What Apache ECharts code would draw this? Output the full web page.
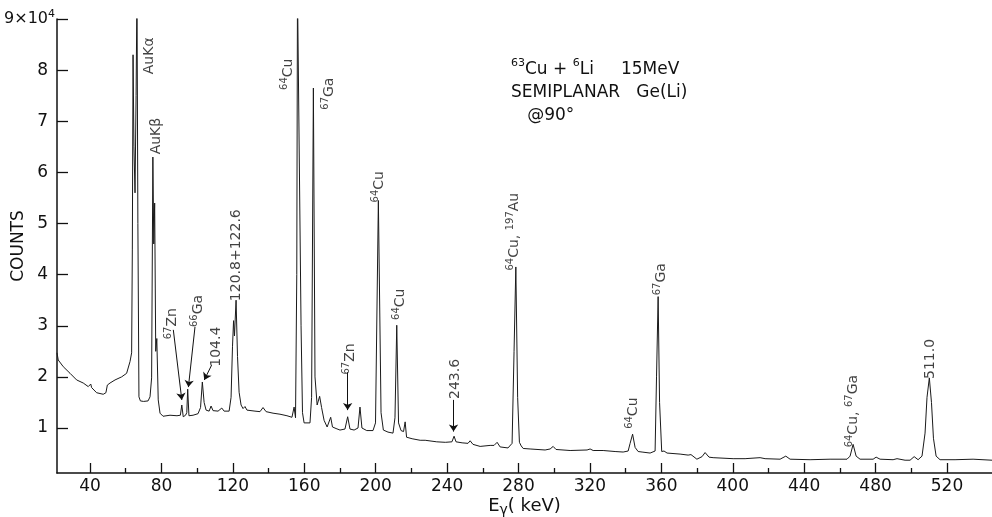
<!DOCTYPE html>
<html><head><meta charset="utf-8">
<script src="https://cdn.jsdelivr.net/npm/echarts@6/dist/echarts.min.js"></script>
<style>html,body{margin:0;padding:0;background:#fff}#c{width:992px;height:517px}</style>
</head><body><div id="c"></div>
<script>
// Gamma-ray energies (keV) and counts (units of 10^4)
const energy = [
21.5,22.2,25.0,28.8,32.5,36.2,39.0,40.0,40.4,40.9,41.5,43.7,47.4,48.9,49.4,49.7,51.2,54.0,57.7,60.5,62.4,63.3,
63.7,64.1,64.6,65.2,65.8,66.3,66.8,67.4,68.2,70.0,72.5,73.6,74.5,75.2,75.7,76.2,76.8,77.4,78.2,79.2,
80.9,84.8,88.7,90.6,91.4,92.2,93.5,94.2,94.7,95.4,97.7,100.5,101.9,102.9,103.9,105.0,106.7,107.8,108.9,
111.7,113.8,115.1,117.9,119.0,119.8,120.4,120.9,121.8,122.6,123.5,124.6,125.7,126.8,127.9,132.4,135.2,
136.9,138.6,142.5,146.4,150.3,153.1,154.3,155.1,155.8,156.2,156.7,157.2,158.2,159.0,159.9,163.2,164.1,
165.1,166.0,167.2,168.6,169.7,171.1,172.8,173.9,174.8,175.8,177.8,180.0,182.8,184.3,185.6,187.9,190.1,
191.2,192.3,195.0,198.5,199.9,201.5,203.0,204.3,206.9,209.7,210.8,211.8,212.8,214.2,215.6,216.5,217.3,
220.4,224.9,226.0,227.7,234.2,239.0,242.7,243.9,245.0,248.4,251.7,252.9,254.5,258.5,264.1,266.3,268.0,
269.7,274.1,276.4,277.5,278.5,279.5,280.5,281.5,282.6,286.5,294.9,297.7,299.4,301.0,308.9,318.4,320.1,
321.8,327.4,334.1,338.6,341.4,342.5,343.9,345.3,347.0,349.2,353.7,356.5,357.3,358.2,359.0,360.2,361.5,
363.2,370.5,375.0,376.6,379.9,382.8,384.5,386.7,389.0,400.2,406.9,415.3,418.1,426.5,429.7,432.1,443.3,
454.5,464.0,465.7,467.4,469.1,471.3,478.6,480.3,482.5,489.8,492.0,496.5,499.3,501.6,503.8,506.0,507.7,
508.8,510.1,511.3,512.4,513.9,516.1,524.5,534.6,545.2
];
const counts = [
2.47,2.33,2.20,2.07,1.94,1.88,1.81,1.79,1.86,1.79,1.78,1.69,1.66,1.69,1.70,1.84,1.88,1.94,2.00,2.07,2.30,2.47,
4.5,8.3,6.5,5.6,7.5,9.6,5.0,1.61,1.53,1.52,1.53,1.61,1.98,6.3,4.6,5.4,2.5,2.75,1.55,1.29,
1.23,1.25,1.24,1.25,1.45,1.22,1.25,1.30,1.76,1.24,1.25,1.28,1.40,1.90,1.50,1.35,1.33,1.43,1.34,
1.33,1.39,1.33,1.33,1.60,2.60,3.10,2.80,3.50,2.40,1.70,1.45,1.38,1.42,1.35,1.33,1.32,
1.40,1.32,1.29,1.27,1.24,1.21,1.41,1.20,4.0,9.6,9.6,9.6,3.0,1.30,1.10,1.10,1.60,
7.65,2.00,1.45,1.62,1.40,1.15,1.02,1.05,1.21,1.02,0.99,0.96,0.98,1.22,0.98,0.96,1.00,
1.41,1.00,0.95,0.95,1.10,5.45,1.30,0.96,0.92,0.90,1.20,3.01,1.10,0.95,0.93,1.12,0.82,
0.79,0.76,0.79,0.76,0.73,0.72,0.73,0.84,0.73,0.71,0.70,0.75,0.68,0.64,0.66,0.66,0.72,
0.63,0.61,0.70,2.50,4.15,1.60,0.72,0.65,0.60,0.59,0.57,0.59,0.64,0.58,0.56,0.57,0.59,
0.56,0.56,0.54,0.53,0.55,0.70,0.88,0.62,0.54,0.53,0.51,0.55,2.00,3.57,1.50,0.54,0.55,
0.51,0.49,0.47,0.48,0.39,0.44,0.52,0.43,0.42,0.40,0.40,0.42,0.40,0.39,0.45,0.39,0.38,
0.39,0.39,0.45,0.68,0.45,0.39,0.39,0.43,0.39,0.38,0.40,0.37,0.37,0.44,0.38,0.45,0.90,
1.60,1.98,1.50,0.80,0.45,0.38,0.38,0.39,0.37
];
const xMajorTicks = [40,80,120,160,200,240,280,320,360,400,440,480,520];
const xMinorTicks = [60,100,140,180,220,260,300,340,380,420,460,500];
const yTicks = [1,2,3,4,5,6,7,8,9];

// Peak annotations: [energy, counts, text]
const peakNotes = [
 [73.0, 8.28, '{t|AuKα}'],
 [77.0, 6.71, '{t|AuKβ}'],
 [151.2, 7.92, '{s|64}{t|Cu}'],
 [173.9, 7.54, '{s|67}{t|Ga}'],
 [122.1, 4.38, '{t|120.8+122.6}'],
 [86.2, 3.04, '{s|67}{t|Zn}'],
 [100.8, 3.29, '{s|66}{t|Ga}'],
 [111.0, 2.59, '{t|104.4}'],
 [185.6, 2.35, '{s|67}{t|Zn}'],
 [201.9, 5.72, '{s|64}{t|Cu}'],
 [213.7, 3.42, '{s|64}{t|Cu}'],
 [244.7, 1.96, '{t|243.6}'],
 [277.5, 4.84, '{s|64}{t|Cu, }{s|197}{t|Au}'],
 [344.5, 1.29, '{s|64}{t|Cu}'],
 [359.9, 3.91, '{s|67}{t|Ga}'],
 [467.4, 1.33, '{s|64}{t|Cu, }{s|67}{t|Ga}'],
 [510.6, 2.35, '{t|511.0}']
];
// Arrows: [[fromE, fromC],[toE, toC]]
const arrows = [
 [[86.65, 2.92], [91.4, 1.55]],
 [[98.8, 2.98], [95.1, 1.80]],
 [[108.1, 2.23], [104.0, 1.94]],
 [[184.3, 2.09], [184.3, 1.35]],
 [[243.6, 1.55], [243.6, 0.93]]
];

const F = 'DejaVu Sans';
const INK = '#111';
const chart = echarts.init(document.getElementById('c'), null, {renderer: 'canvas'});
const spectrum = energy.map((e, i) => [e, counts[i]]);

chart.setOption({
  animation: false,
  backgroundColor: '#fff',
  title: {
    left: 511, top: 58, padding: 0,
    text: '{s|63}{t|Cu + }{s|6}{t|Li     15MeV}\n{t|SEMIPLANAR   Ge(Li)}\n{t|   @90°}',
    textStyle: {
      fontWeight: 'normal', fontFamily: F, color: INK,
      rich: {
        t: {fontFamily: F, fontSize: 17, lineHeight: 23, color: INK, fontWeight: 'normal'},
        s: {fontFamily: F, fontSize: 11, lineHeight: 9, verticalAlign: 'top', color: INK, fontWeight: 'normal'}
      }
    }
  },
  grid: {left: 57, right: 0, top: 19, bottom: 44, containLabel: false, outerBoundsMode: 'none'},
  xAxis: [{
    type: 'value', min: 21.5, max: 545.2,
    axisLine: {show: true, onZero: false, lineStyle: {color: INK, width: 1.5}},
    axisTick: {show: true, inside: true, length: 10, customValues: xMajorTicks, lineStyle: {color: INK, width: 1.3}},
    axisLabel: {customValues: xMajorTicks, fontFamily: F, fontSize: 17, color: INK, margin: 5},
    splitLine: {show: false},
    name: '{e|E}{g|γ}{e|( keV)}', nameLocation: 'middle', nameGap: 22, nameMoveOverlap: false,
    nameTextStyle: {
      rich: {
        e: {fontFamily: F, fontSize: 18, lineHeight: 22, color: INK},
        g: {fontFamily: F, fontSize: 14, lineHeight: 10, verticalAlign: 'bottom', color: INK}
      }
    }
  }, {
    type: 'value', min: 21.5, max: 545.2, position: 'bottom',
    axisLine: {show: false, onZero: false},
    axisTick: {show: true, inside: true, length: 5, customValues: xMinorTicks, lineStyle: {color: INK, width: 1.3}},
    axisLabel: {show: false},
    splitLine: {show: false}
  }],
  yAxis: {
    type: 'value', min: 0.12, max: 9,
    axisLine: {show: true, onZero: false, lineStyle: {color: INK, width: 1.5}},
    axisTick: {show: true, inside: true, length: 11, customValues: yTicks, lineStyle: {color: INK, width: 1.3}},
    axisLabel: {
      customValues: yTicks, margin: 2,
      formatter: v => v === 9 ? '{b|9×10}{p|4}' : '{n|' + v + '}',
      rich: {
        b: {fontFamily: F, fontSize: 16, lineHeight: 20, color: INK},
        p: {fontFamily: F, fontSize: 11, lineHeight: 9, verticalAlign: 'top', color: INK},
        n: {fontFamily: F, fontSize: 17, lineHeight: 20, color: INK, padding: [0, 7, 0, 0]}
      }
    },
    splitLine: {show: false},
    name: 'COUNTS', nameLocation: 'middle', nameRotate: 90, nameGap: 30, nameMoveOverlap: false,
    nameTextStyle: {fontFamily: F, fontSize: 17, color: INK}
  },
  series: [{
    type: 'line', data: spectrum, xAxisIndex: 0,
    showSymbol: false, symbol: 'none', clip: true, silent: true,
    lineStyle: {color: '#1a1a1a', width: 1},
    emphasis: {disabled: true}
  }, {
    type: 'scatter', xAxisIndex: 0, silent: true,
    symbolSize: 1, itemStyle: {color: 'rgba(0,0,0,0)'},
    emphasis: {disabled: true},
    data: peakNotes.map(n => ({value: [n[0], n[1]], label: {formatter: n[2]}})),
    label: {
      show: true, position: 'inside', rotate: 90, align: 'center', verticalAlign: 'middle', color: INK,
      rich: {
        t: {fontFamily: F, fontSize: 14, lineHeight: 18, color: INK},
        s: {fontFamily: F, fontSize: 10, lineHeight: 8, verticalAlign: 'top', color: INK}
      }
    },
    markLine: {
      silent: true, animation: false,
      symbol: ['none', 'arrow'], symbolSize: 7,
      lineStyle: {color: INK, width: 1, type: 'solid'},
      label: {show: false},
      emphasis: {disabled: true},
      data: arrows.map(a => [{coord: a[0]}, {coord: a[1]}])
    }
  }]
});
</script>
</body></html>
